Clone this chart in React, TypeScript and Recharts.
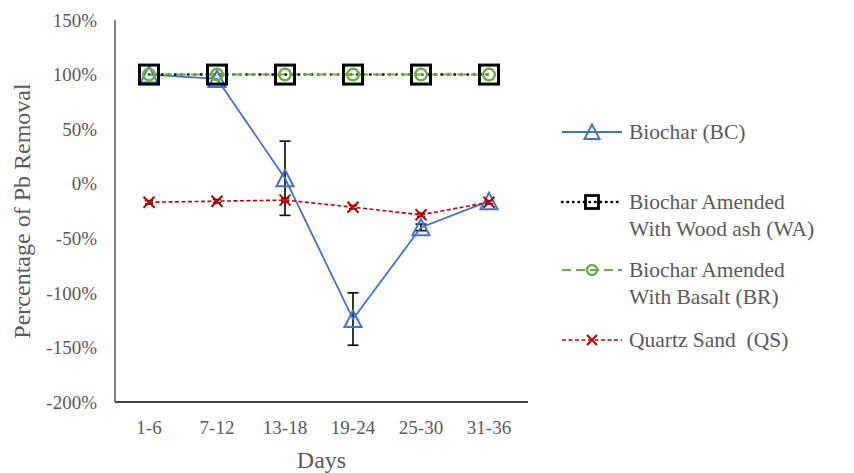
import { LineChart, Line, XAxis, YAxis, ErrorBar, Legend, Label } from 'recharts';

const days = ['1-6', '7-12', '13-18', '19-24', '25-30', '31-36'];
const biochar = [100, 96, 5, -124, -40, -16];
const biocharErr = [0, 0, 34, 24, 3, 0];
const woodAsh = [100, 100, 100, 100, 100, 100];
const basalt = [100, 100, 100, 100, 100, 100];
const quartz = [-17, -16, -15, -21.5, -28.5, -17];
const quartzErr = [1.5, 1.5, 1.5, 1.5, 1.5, 1.5];
const yTicks = [150, 100, 50, 0, -50, -100, -150, -200];

const legendLabels = [
    ['Biochar (BC)'],
    ['Biochar Amended', 'With Wood ash (WA)'],
    ['Biochar Amended', 'With Basalt (BR)'],
    ['Quartz Sand  (QS)'],
];

const data = days.map((d, i) => ({
    day: d,
    bc: biochar[i],
    bcErr: biocharErr[i],
    wa: woodAsh[i],
    br: basalt[i],
    qs: quartz[i],
    qsErr: quartzErr[i],
}));

const FONT = '"Liberation Serif", "Times New Roman", serif';
const TEXT = '#595959';
const BLUE = '#4472C4';
const GREEN = '#70AD47';
const RED = '#C00000';

// markers
const Triangle = ({ cx, cy, s = 8.5 }: any) =>
    cx == null ? null : (
        <path d={`M${cx},${cy - s} L${cx + s},${cy + s - 0.5} L${cx - s},${cy + s - 0.5} Z`} fill="none" stroke={BLUE} strokeWidth={2} />
    );
const Square = ({ cx, cy, s = 9.5, w = 3 }: any) =>
    cx == null ? null : <rect x={cx - s} y={cy - s} width={s * 2} height={s * 2} fill="none" stroke="#000" strokeWidth={w} />;
const Circle = ({ cx, cy, r = 5.8 }: any) =>
    cx == null ? null : <circle cx={cx} cy={cy} r={r} fill="none" stroke={GREEN} strokeWidth={2.5} />;
const Cross = ({ cx, cy, s = 5.5 }: any) =>
    cx == null ? null : (
        <path d={`M${cx - s},${cy - s} L${cx + s},${cy + s} M${cx - s},${cy + s} L${cx + s},${cy - s}`} stroke={RED} strokeWidth={2} />
    );

const textStyle = { fontFamily: FONT, fill: TEXT, whiteSpace: 'pre' } as any;

function ChartLegend() {
    const rows = [22, 92, 160, 230];
    const icons = [
        { stroke: BLUE, dash: undefined, cap: 'butt', w: 1.8, mark: (y: number) => <Triangle cx={37} cy={y} s={7.5} /> },
        { stroke: '#000', dash: '0.5 5', cap: 'round', w: 2.6, mark: (y: number) => <Square cx={37} cy={y} s={6.5} w={2.8} /> },
        { stroke: GREEN, dash: '9 5', cap: 'butt', w: 2, mark: (y: number) => <Circle cx={37} cy={y} r={5} /> },
        { stroke: RED, dash: '4 2.5', cap: 'butt', w: 1.6, mark: (y: number) => <Cross cx={37} cy={y} s={5} /> },
    ];
    return (
        <svg width={299} height={260}>
            {legendLabels.map((lines, i) => (
                <g key={i}>
                    <line x1={7} x2={67} y1={rows[i]} y2={rows[i]} stroke={icons[i].stroke} strokeWidth={icons[i].w}
                        strokeDasharray={icons[i].dash} strokeLinecap={icons[i].cap as any} />
                    {icons[i].mark(rows[i])}
                    {lines.map((t, j) => (
                        <text key={j} x={74} y={rows[i] + j * 27} dominantBaseline="central"
                            style={{ ...textStyle, fontSize: 21.5 }}>{t}</text>
                    ))}
                </g>
            ))}
        </svg>
    );
}

export default function App() {
    return (
        <div style={{ position: 'absolute', left: 0, top: 0, background: '#fff' }}>
            <LineChart width={854} height={473} data={data} margin={{ top: 20, right: 326, bottom: 0, left: 0 }}>
                <XAxis dataKey="day" scale="band" height={71} stroke="#000" strokeWidth={1.5} tickLine={false} tickSize={0}
                    tickMargin={19} padding={{ left: 0, right: 5 }}
                    tick={{ style: { ...textStyle, fontSize: 19 } }}>
                    <Label content={({ viewBox }: any) => (
                        <text x={viewBox.x + viewBox.width / 2} y={460} textAnchor="middle" dominantBaseline="central"
                            style={{ ...textStyle, fontSize: 24 }}>Days</text>
                    )} />
                </XAxis>
                <YAxis width={115} domain={[-200, 150]} ticks={yTicks} interval={0} stroke="#595959" strokeWidth={1.5}
                    tickLine={false} tickSize={0} tickMargin={18} tickFormatter={(v) => `${v}%`}
                    tick={{ style: { ...textStyle, fontSize: 19 } }}>
                    <Label content={({ viewBox }: any) => (
                        <text transform={`translate(22,${viewBox.y + viewBox.height / 2}) rotate(-90)`} textAnchor="middle"
                            dominantBaseline="central" style={{ ...textStyle, fontSize: 24 }}>Percentage of Pb Removal</text>
                    )} />
                </YAxis>
                <Legend layout="vertical" align="center" verticalAlign="middle" content={() => <ChartLegend />}
                    wrapperStyle={{ left: 555, top: 110, width: 299 }} />
                <Line type="linear" dataKey="bc" name="Biochar (BC)" stroke={BLUE} strokeWidth={1.8}
                    dot={(p: any) => <Triangle key={`bc${p.index}`} cx={p.cx} cy={p.cy} />} isAnimationActive={false}>
                    <ErrorBar dataKey="bcErr" width={5.5} stroke="#000" strokeWidth={1.6} direction="y" isAnimationActive={false} />
                </Line>
                <Line type="linear" dataKey="wa" name="Biochar Amended With Wood ash (WA)" stroke="#000" strokeWidth={2.6}
                    strokeDasharray="0.5 6" strokeLinecap="round"
                    dot={(p: any) => <Square key={`wa${p.index}`} cx={p.cx} cy={p.cy} />} isAnimationActive={false} />
                <Line type="linear" dataKey="br" name="Biochar Amended With Basalt (BR)" stroke={GREEN} strokeWidth={2}
                    strokeDasharray="9 5"
                    dot={(p: any) => <Circle key={`br${p.index}`} cx={p.cx} cy={p.cy} />} isAnimationActive={false} />
                <Line type="linear" dataKey="qs" name="Quartz Sand  (QS)" stroke={RED} strokeWidth={1.6}
                    strokeDasharray="4 2.5"
                    dot={(p: any) => <Cross key={`qs${p.index}`} cx={p.cx} cy={p.cy} />} isAnimationActive={false}>
                    <ErrorBar dataKey="qsErr" width={4} stroke="#000" strokeWidth={1.6} direction="y" isAnimationActive={false} />
                </Line>
            </LineChart>
        </div>
    );
}
